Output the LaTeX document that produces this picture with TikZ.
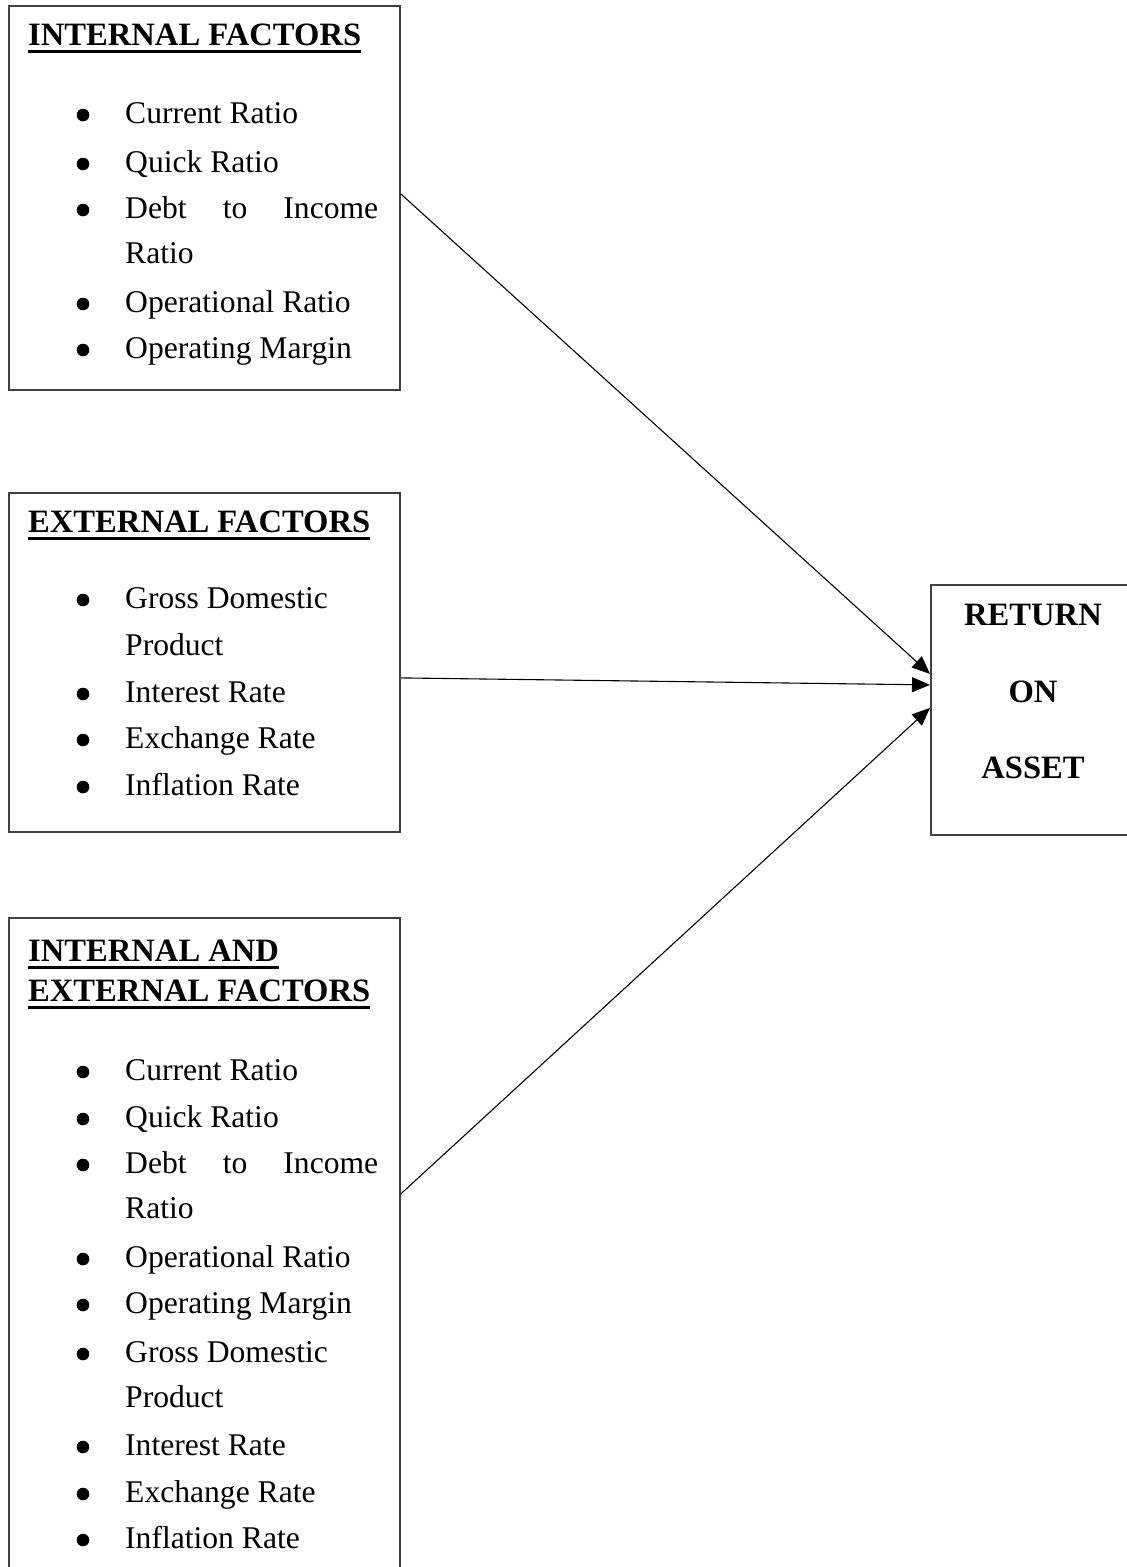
\documentclass[tikz,border=0pt]{standalone}
\usepackage{fontspec}
\setmainfont{Liberation Serif}
\usetikzlibrary{arrows.meta}
\newcommand\bitem[3]{\fill (83,#2-8) circle (6.3pt); \node[txt] (#1) at (125,#2) {#3};}
\newcommand\cont[3]{\node[txt] (#1) at (125,#2) {#3};}
\begin{document}
\begin{tikzpicture}[x=1pt,y=-1pt,
  box/.style={draw=black!75, line width=1.8pt, inner sep=0pt, anchor=north west},
  txt/.style={anchor=base west, inner sep=0pt, font=\fontsize{31.6}{38}\selectfont},
  head/.style={anchor=base west, inner sep=0pt, font=\fontsize{32.6}{38}\selectfont\bfseries},
  uline/.style={line width=3pt},
  conn/.style={line width=1.1pt, -{Triangle[length=18pt,width=15pt]}}]
\useasboundingbox (0,0) rectangle (1127,1567);
\clip (0,0) rectangle (1127,1567);
\fill[white] (0,0) rectangle (1127,1567);

% boxes
\node[box, minimum width=391pt, minimum height=384pt] (b1) at (8,5) {};
\node[box, minimum width=391pt, minimum height=339pt] (b2) at (8,492) {};
\node[box, minimum width=391pt, minimum height=700pt] (b3) at (8,917) {};
\node[box, minimum width=215pt, minimum height=250pt] (roa) at (930,584) {};

% box 1
\node[head] (h1) at (28,45) {INTERNAL FACTORS};
\draw[uline] ([yshift=-6.5pt]h1.base west) -- ([yshift=-6.5pt]h1.base east);
\bitem{a1}{123}{Current Ratio}
\bitem{a2}{172}{Quick Ratio}
\bitem{a3}{218}{\makebox[253pt][s]{Debt to Income}}
\cont{a4}{263}{Ratio}
\bitem{a5}{312}{Operational Ratio}
\bitem{a6}{358}{Operating Margin}

% box 2
\node[head] (h2) at (28,532) {EXTERNAL FACTORS};
\draw[uline] ([yshift=-6.5pt]h2.base west) -- ([yshift=-6.5pt]h2.base east);
\bitem{c1}{608}{Gross Domestic}
\cont{c2}{655}{Product}
\bitem{c3}{702}{Interest Rate}
\bitem{c4}{748}{Exchange Rate}
\bitem{c5}{795}{Inflation Rate}

% box 3
\node[head] (h3a) at (28,961) {INTERNAL AND};
\draw[uline] ([yshift=-6.5pt]h3a.base west) -- ([yshift=-6.5pt]h3a.base east);
\node[head] (h3b) at (28,1001) {EXTERNAL FACTORS};
\draw[uline] ([yshift=-6.5pt]h3b.base west) -- ([yshift=-6.5pt]h3b.base east);
\bitem{d1}{1080}{Current Ratio}
\bitem{d2}{1127}{Quick Ratio}
\bitem{d3}{1173}{\makebox[253pt][s]{Debt to Income}}
\cont{d4}{1218}{Ratio}
\bitem{d5}{1267}{Operational Ratio}
\bitem{d6}{1313}{Operating Margin}
\bitem{d7}{1362}{Gross Domestic}
\cont{d8}{1407}{Product}
\bitem{d9}{1455}{Interest Rate}
\bitem{d10}{1502}{Exchange Rate}
\bitem{d11}{1548}{Inflation Rate}

% return on asset
\node[head, anchor=base] (r1) at (1033,625) {RETURN};
\node[head, anchor=base] (r2) at (1033,702) {ON};
\node[head, anchor=base] (r3) at (1033,778) {ASSET};

% connectors
\draw[conn] ([yshift=4pt]b1.east) -- ([yshift=36pt]roa.west);
\draw[conn] ([yshift=-15.5pt]b2.east) -- ([yshift=25pt]roa.west);
\draw[conn] ([yshift=74pt]b3.east) -- ([yshift=2pt]roa.west);
\end{tikzpicture}
\end{document}
